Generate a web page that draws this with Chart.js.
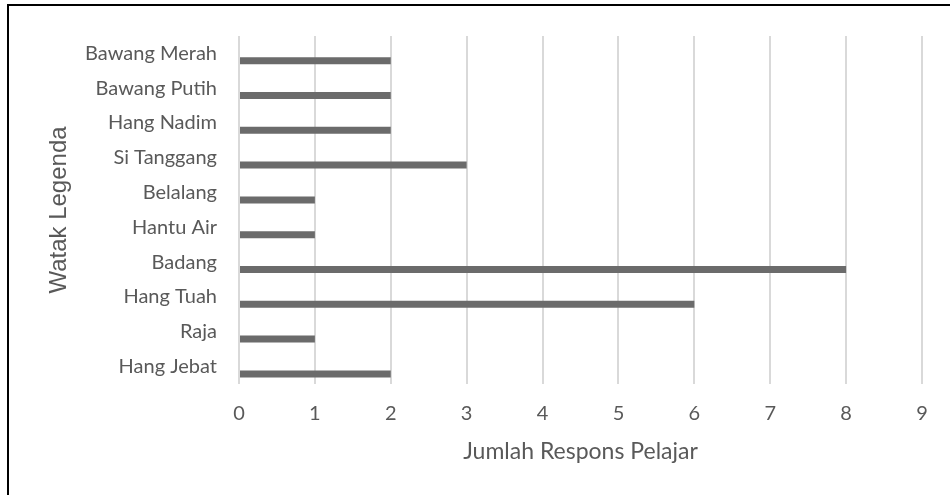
<!DOCTYPE html>
<html>
<head>
<meta charset="utf-8">
<script src="https://cdn.jsdelivr.net/npm/chart.js@4.4.0/dist/chart.umd.min.js"></script>
<style>
  html, body { margin: 0; padding: 0; background: #ffffff; }
  #wrap { position: relative; width: 950px; height: 495px; overflow: hidden; }
  #frame { position: absolute; left: 7px; top: 4px; width: 950px; height: 500px; border-left: 2px solid #000; border-top: 2px solid #000; box-sizing: border-box; pointer-events: none; }
  canvas { position: absolute; left: 0; top: 0; }
</style>
</head>
<body>
<div id="wrap">
  <canvas id="c" width="950" height="495"></canvas>
  <div id="frame"></div>
</div>
<script>
const categories = ["Bawang Merah", "Bawang Putih", "Hang Nadim", "Si Tanggang", "Belalang", "Hantu Air", "Badang", "Hang Tuah", "Raja", "Hang Jebat"];
const responses = [2, 2, 2, 3, 1, 1, 8, 6, 1, 2];
const xTicks = [0, 1, 2, 3, 4, 5, 6, 7, 8, 9];
const xTitle = "Jumlah Respons Pelajar";
const yTitle = "Watak Legenda";

const textColor = "#595959";
const labelFont = "Lato, 'Open Sans', sans-serif";

new Chart(document.getElementById("c"), {
  type: "bar",
  data: {
    labels: categories,
    datasets: [
      { data: [], backgroundColor: "rgba(0,0,0,0)", borderWidth: 0 },
      { data: responses, backgroundColor: "#6b6b6b", borderWidth: 0 }
    ]
  },
  options: {
    indexAxis: "y",
    responsive: false,
    animation: false,
    datasets: { bar: { categoryPercentage: 0.84, barPercentage: 0.48 } },
    layout: { padding: { left: 8, top: 36, right: 28, bottom: 0 } },
    plugins: { legend: { display: false }, tooltip: { enabled: false } },
    scales: {
      x: {
        min: xTicks[0],
        max: xTicks[xTicks.length - 1],
        afterBuildTicks: (s) => { s.ticks = xTicks.map(v => ({ value: v })); },
        afterFit: (s) => { s.height = 111; },
        grid: { color: "#d9d9d9", lineWidth: 2, drawTicks: false },
        border: { display: false },
        ticks: { color: textColor, padding: 18, font: { family: labelFont, size: 20 } },
        title: { display: true, text: xTitle, color: textColor, font: { family: labelFont, size: 23 }, padding: { top: 0, bottom: 30 } }
      },
      y: {
        afterFit: (s) => { s.width = 231; },
        grid: { display: false, drawTicks: false },
        border: { display: false },
        ticks: { color: textColor, padding: 22, font: { family: labelFont, size: 20 } },
        title: { display: true, text: yTitle, color: textColor, font: { family: "'Liberation Sans', Arial, sans-serif", size: 24 }, padding: { top: 37, bottom: 0 } }
      }
    }
  }
});
</script>
</body>
</html>
